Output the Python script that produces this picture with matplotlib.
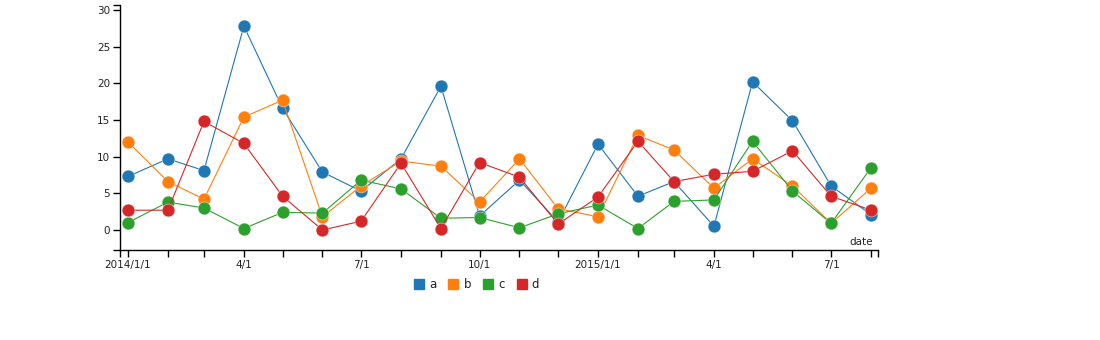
import matplotlib
matplotlib.use("Agg")
import matplotlib.pyplot as plt
import matplotlib.dates as mdates
from matplotlib.lines import Line2D
import numpy as np
import pandas as pd

dates = pd.date_range("2014-01-01", "2015-08-01", freq="MS")
series_names = ["a", "b", "c", "d"]
a = [7.3, 9.7, 8.1, 27.8, 16.6, 7.9, 5.3, 9.7, 19.6, 1.9, 6.8, 1.1, 11.7, 4.6, 6.6, 0.5, 20.2, 14.9, 6.0, 2.1]
b = [12.0, 6.6, 4.2, 15.4, 17.7, 1.8, 6.0, 9.4, 8.7, 3.8, 9.7, 2.9, 1.8, 12.9, 10.9, 5.7, 9.7, 6.0, 0.9, 5.7]
c = [1.0, 3.8, 3.0, 0.2, 2.4, 2.3, 6.8, 5.6, 1.6, 1.7, 0.3, 2.2, 3.4, 0.2, 3.9, 4.1, 12.1, 5.3, 0.9, 8.5]
d = [2.7, 2.7, 14.8, 11.8, 4.6, 0.0, 1.2, 9.1, 0.2, 9.2, 7.2, 0.8, 4.5, 12.1, 6.6, 7.6, 8.0, 10.8, 4.6, 2.7]
colors = ["#1f77b4", "#ff7f0e", "#2ca02c", "#d62728"]

x_tick_labels = {"2014-01-01": "2014/1/1", "2014-04-01": "4/1", "2014-07-01": "7/1",
                 "2014-10-01": "10/1", "2015-01-01": "2015/1/1", "2015-04-01": "4/1",
                 "2015-07-01": "7/1"}
y_ticks = [0, 5, 10, 15, 20, 25, 30]

fig = plt.figure(figsize=(11, 3.4), dpi=100)
ax = fig.add_axes([120/1100, 1-250/340, 758/1100, 245/340])

for name, vals, col in zip(series_names, [a, b, c, d], colors):
    ax.plot(dates, vals, color=col, lw=0.8, marker="o", markersize=9.2,
            markerfacecolor=col, markeredgecolor=(1, 1, 1, 0.5), markeredgewidth=0.6,
            zorder=3)

x0 = pd.Timestamp("2014-01-01") - pd.Timedelta(days=6.2)
x1 = pd.Timestamp("2015-08-01") + pd.Timedelta(days=5.4)
ax.set_xlim(x0, x1)
ax.set_ylim(-2.73, 30.68)

month_ticks = list(pd.date_range("2014-01-01", "2015-08-01", freq="MS"))
xt = [x0] + month_ticks + [x1]
xl = [""] + [x_tick_labels.get(t.strftime("%Y-%m-%d"), "") for t in month_ticks] + [""]
ax.set_xticks(xt)
ax.set_xticklabels(xl)
yt = [-2.73] + y_ticks + [30.68]
ax.set_yticks(yt)
ax.set_yticklabels([""] + [str(v) for v in y_ticks] + [""])

for s in ["top", "right"]:
    ax.spines[s].set_visible(False)
for s in ["left", "bottom"]:
    ax.spines[s].set_linewidth(1.0)
    ax.spines[s].set_color("#000000")
ax.tick_params(axis="both", length=5, width=1.0, color="#000000", labelsize=7.5,
               labelcolor="#222222", pad=2)

ax.text(0.993, 0.033, "date", transform=ax.transAxes, ha="right", va="center",
        fontsize=7.5, color="#222222")

handles = [Line2D([0], [0], marker="s", linestyle="none", markersize=7.5,
                  markerfacecolor=c_, markeredgecolor=c_) for c_ in colors]
fig.legend(handles, series_names, loc="center", bbox_to_anchor=(477/1100, 1-285/340),
           ncol=4, frameon=False, fontsize=8.5, handlelength=0.7, handletextpad=0.5,
           columnspacing=1.1, labelcolor="#222222")

fig.savefig("out.png", dpi=100)
